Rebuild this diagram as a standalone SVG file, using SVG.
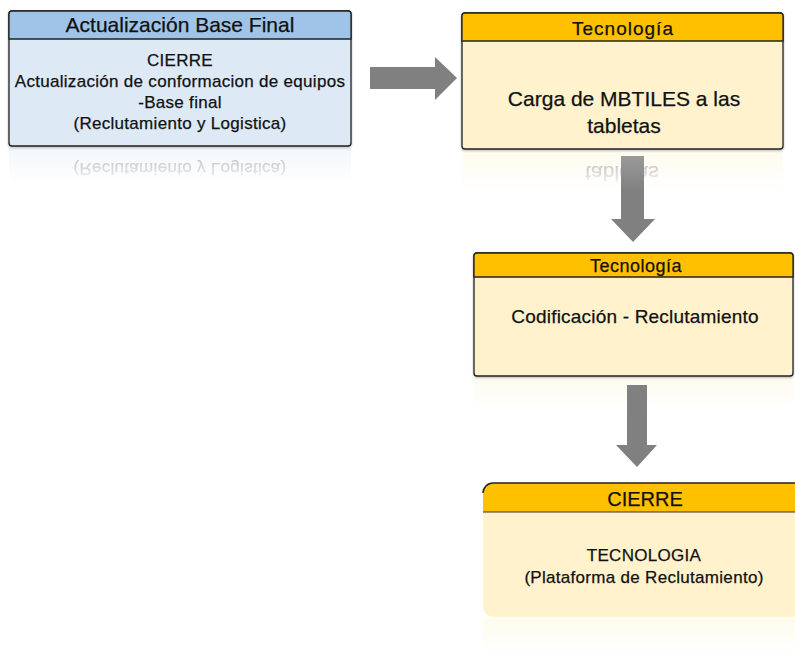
<svg xmlns="http://www.w3.org/2000/svg" width="795" height="656" viewBox="0 0 795 656">
<style>
text{font-family:"Liberation Sans",Arial,sans-serif;fill:#111;text-anchor:middle;stroke:#111;stroke-width:0.25}
.hd{stroke:#222;stroke-width:1.3}
.bd{stroke:#222;stroke-width:1.3}
.arrow{fill:#808080}
.refl{opacity:0.35}
</style>
<defs>
<linearGradient id="fade" x1="0" y1="0" x2="0" y2="1">
<stop offset="0" stop-color="#fff" stop-opacity="1"/>
<stop offset="1" stop-color="#fff" stop-opacity="0"/>
</linearGradient>
<mask id="fm" maskContentUnits="objectBoundingBox">
<rect width="1" height="1" fill="url(#fade)"/>
</mask>
<linearGradient id="shaft" x1="0" y1="0" x2="0" y2="1">
<stop offset="0" stop-color="#9a9a9a"/>
<stop offset="0.4" stop-color="#808080"/>
</linearGradient>
<filter id="sh" x="-5%" y="-5%" width="110%" height="115%">
<feDropShadow dx="0" dy="1" stdDeviation="1" flood-color="#000" flood-opacity="0.3"/>
</filter>
</defs>

<g id="node-actualizacion">
<g class="refl" mask="url(#fm)">
<rect x="9" y="148" width="342" height="38" fill="#dce9f5"/>
<text x="180" y="-163" font-size="17" letter-spacing="0.3" transform="scale(1,-1)">(Reclutamiento y Logistica)</text>
</g>
<g filter="url(#sh)">
<rect x="9" y="11" width="342" height="135" rx="3" fill="#dde9f5" class="bd"/>
<path d="M9,39 V14 a3,3 0 0 1 3,-3 H348 a3,3 0 0 1 3,3 V39 Z" fill="#9fc4e7" class="hd"/>
</g>
<text x="180" y="32" font-size="21">Actualización Base Final</text>
<g font-size="17" letter-spacing="0.3">
<text x="180" y="66">CIERRE</text>
<text x="180" y="87">Actualización de conformacion de equipos</text>
<text x="180" y="108">-Base final</text>
<text x="180" y="129">(Reclutamiento y Logistica)</text>
</g>
</g>

<g id="node-carga">
<g class="refl" mask="url(#fm)">
<rect x="462" y="151" width="321" height="40" fill="#fff2cc"/>
<text x="622" y="-166" font-size="21" transform="scale(1,-1)">tabletas</text>
</g>
<g filter="url(#sh)">
<rect x="462" y="13" width="321" height="136" rx="3" fill="#fff2cc" class="bd"/>
<path d="M462,41 V16 a3,3 0 0 1 3,-3 H780 a3,3 0 0 1 3,3 V41 Z" fill="#ffc000" class="hd"/>
</g>
<text x="623" y="35" font-size="19" letter-spacing="1">Tecnología</text>
<text x="624" y="106" font-size="21">Carga de MBTILES a las</text>
<text x="624" y="133" font-size="21">tabletas</text>
</g>

<g id="node-codificacion">
<g class="refl" mask="url(#fm)">
<rect x="474" y="378" width="319" height="32" fill="#fff2cc"/>
</g>
<g filter="url(#sh)">
<rect x="474" y="253" width="319" height="123" rx="3" fill="#fff2cc" class="bd"/>
<path d="M474,277 V256 a3,3 0 0 1 3,-3 H790 a3,3 0 0 1 3,3 V277 Z" fill="#ffc000" class="hd"/>
</g>
<text x="636" y="272" font-size="18" letter-spacing="0.5">Tecnología</text>
<text x="635" y="323" font-size="19" letter-spacing="0.2">Codificación - Reclutamiento</text>
</g>

<g id="node-cierre">
<g class="refl" mask="url(#fm)">
<rect x="483" y="619" width="322" height="34" fill="#fff2cc"/>
</g>
<path d="M483,512 V493 a10,10 0 0 1 10,-10 H805 V617 H493 a10,10 0 0 1 -10,-10 Z" fill="#fff2cc"/>
<path d="M483,512 V493 a10,10 0 0 1 10,-10 H805 V512 Z" fill="#ffc000"/>
<path d="M483,493 a10,10 0 0 1 10,-10 H805" fill="none" stroke="#222" stroke-width="1.5"/>
<line x1="483" y1="512" x2="805" y2="512" stroke="#333" stroke-width="1"/>
<text x="645" y="506" font-size="20">CIERRE</text>
<g font-size="17" letter-spacing="0.3">
<text x="644" y="561">TECNOLOGIA</text>
<text x="644" y="583">(Plataforma de Reclutamiento)</text>
</g>
</g>

<g id="connectors">
<path class="arrow" d="M370,67 H435 V57 L457,78 L435,100 V89 H370 Z"/>
<path fill="url(#shaft)" d="M621,156 H644 V219 H655 L633,242 L611,219 H621 Z"/>
<path class="arrow" d="M627,385 H647 V445 H657 L637,467 L616,445 H627 Z"/>
</g>
</svg>
